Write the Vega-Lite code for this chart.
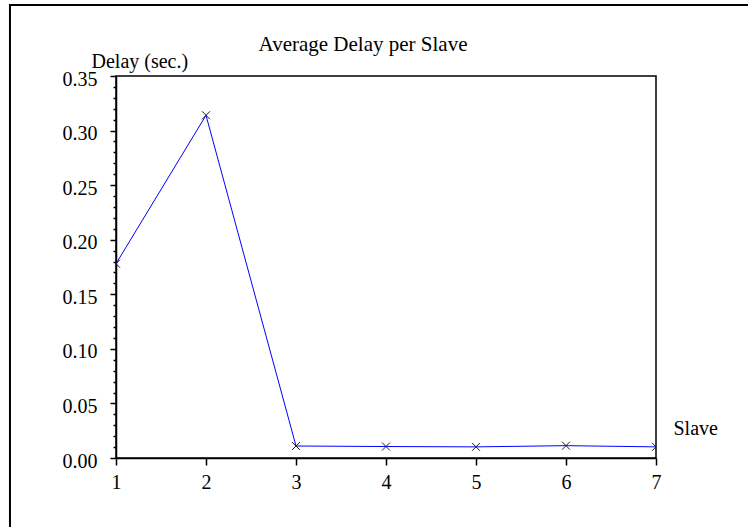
{
  "$schema": "https://vega.github.io/schema/vega-lite/v6.json",
  "width": 540,
  "height": 382,
  "autosize": {"type": "none"},
  "padding": {"left": 116, "top": 76, "right": 92, "bottom": 69},
  "background": "white",
  "title": {
    "text": "Average Delay per Slave",
    "font": "Liberation Serif",
    "fontSize": 21,
    "fontWeight": "normal",
    "color": "black",
    "anchor": "middle",
    "frame": "group",
    "dx": -23,
    "baseline": "alphabetic",
    "offset": -68
  },
  "config": {
    "view": {"stroke": "black", "strokeWidth": 1.5},
    "axis": {
      "labelFont": "Liberation Serif",
      "titleFont": "Liberation Serif",
      "labelFontSize": 20,
      "titleFontSize": 20,
      "titleFontWeight": "normal",
      "labelColor": "black",
      "titleColor": "black",
      "domainColor": "black",
      "tickColor": "black",
      "domainWidth": 1.5,
      "tickWidth": 1.5,
      "grid": false
    }
  },
  "datasets": {
    "delay": [
      {"slave": 1, "delay": 0.178},
      {"slave": 2, "delay": 0.314},
      {"slave": 3, "delay": 0.011},
      {"slave": 4, "delay": 0.0105},
      {"slave": 5, "delay": 0.0102},
      {"slave": 6, "delay": 0.0113},
      {"slave": 7, "delay": 0.0102}
    ],
    "frame": [
      {"x0": -0.178, "x1": 8.5, "y0": 0.415, "y1": -0.08}
    ]
  },
  "layer": [
    {
      "data": {"name": "frame"},
      "mark": {"type": "rect", "fill": null, "filled": false, "stroke": "black", "strokeWidth": 2, "clip": false},
      "encoding": {
        "x": {"field": "x0", "type": "quantitative", "scale": {"domain": [1, 7], "nice": false, "zero": false}, "axis": null},
        "x2": {"field": "x1"},
        "y": {
          "field": "y0",
          "type": "quantitative",
          "scale": {"domain": [0, 0.35], "nice": false, "zero": false},
          "axis": {
            "orient": "left",
            "values": [0.01, 0.02, 0.03, 0.04, 0.06, 0.07, 0.08, 0.09, 0.11, 0.12, 0.13, 0.14, 0.16, 0.17, 0.18, 0.19, 0.21, 0.22, 0.23, 0.24, 0.26, 0.27, 0.28, 0.29, 0.31, 0.32, 0.33, 0.34],
            "labels": false,
            "domain": false,
            "tickSize": 3,
            "title": null
          }
        },
        "y2": {"field": "y1"}
      }
    },
    {
      "data": {"name": "delay"},
      "mark": {"type": "line", "color": "#0000ff", "strokeWidth": 1, "clip": true},
      "encoding": {
        "x": {
          "field": "slave",
          "type": "quantitative",
          "scale": {"domain": [1, 7], "nice": false, "zero": false},
          "axis": {
            "orient": "bottom",
            "values": [1, 2, 3, 4, 5, 6, 7],
            "format": "d",
            "tickSize": 7,
            "labelPadding": 7,
            "labelBaseline": "top",
            "labelFlush": false,
            "title": "Slave",
            "titleX": 557,
            "titleY": -24,
            "titleAlign": "left",
            "titleBaseline": "alphabetic",
            "titleAnchor": null
          }
        },
        "y": {
          "field": "delay",
          "type": "quantitative",
          "scale": {"domain": [0, 0.35], "nice": false, "zero": false},
          "axis": {
            "orient": "left",
            "values": [0, 0.05, 0.1, 0.15, 0.2, 0.25, 0.3, 0.35],
            "format": ".2f",
            "tickSize": 6,
            "labelPadding": 13,
            "labelBaseline": "middle",
            "labelOffset": 3,
            "labelFlush": false,
            "title": "Delay (sec.)",
            "titleAngle": 0,
            "titleX": -25,
            "titleY": -9,
            "titleAlign": "left",
            "titleBaseline": "alphabetic",
            "titleAnchor": null
          }
        }
      }
    },
    {
      "data": {"name": "delay"},
      "mark": {"type": "point", "shape": "M-1,-1L1,1M-1,1L1,-1", "filled": false, "stroke": "#222222", "strokeWidth": 1, "size": 64, "opacity": 1, "clip": true},
      "encoding": {
        "x": {"field": "slave", "type": "quantitative", "scale": {"domain": [1, 7], "nice": false, "zero": false}, "axis": null},
        "y": {"field": "delay", "type": "quantitative", "scale": {"domain": [0, 0.35], "nice": false, "zero": false}, "axis": null}
      }
    }
  ],
  "resolve": {"axis": {"x": "independent", "y": "independent"}}
}
